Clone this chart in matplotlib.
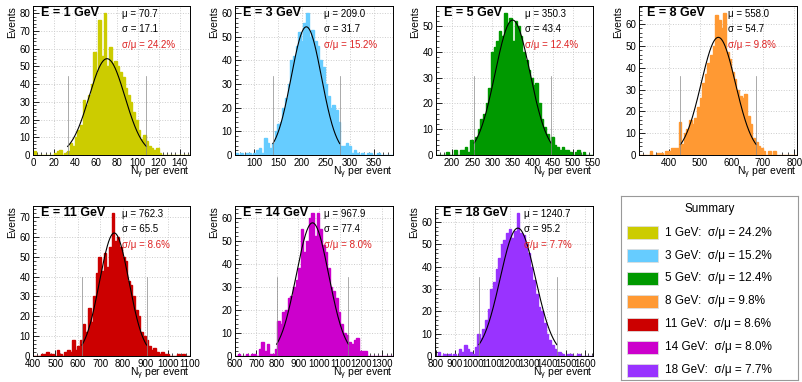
import numpy as np
import matplotlib
matplotlib.use('Agg')
import matplotlib.pyplot as plt
from matplotlib.ticker import MultipleLocator, AutoMinorLocator
from matplotlib.patches import Rectangle

plt.rcParams['font.family'] = ['Liberation Sans', 'DejaVu Sans']
plt.rcParams['mathtext.fontset'] = 'custom'
plt.rcParams['mathtext.rm'] = 'Liberation Sans'
plt.rcParams['mathtext.it'] = 'Liberation Sans:italic'

# beam energies and fit results
energies = [1, 3, 5, 8, 11, 14, 18]
mu = [70.7, 209.0, 350.3, 558.0, 762.3, 967.9, 1240.7]
sigma = [17.1, 31.7, 43.4, 54.7, 65.5, 77.4, 95.2]
fit_peak = [54.3, 54.2, 52.3, 53.9, 62.0, 57.8, 57.3]

# histogram ranges (60 bins each)
x_lo = [0, 60, 160, 306, 400, 600, 795]
x_hi = [150, 390, 550, 808, 1100, 1350, 1645]
x_major = [20, 50, 50, 100, 100, 100, 100]

counts_1gev = [2, 0, 0, 0, 0, 0, 0, 0, 1, 2, 3, 0, 1, 2, 7, 5, 10, 14, 17, 31,
               28, 34, 40, 58, 46, 76, 56, 80, 50, 61, 52, 53, 50, 47, 44, 38, 34, 30, 24, 20,
               14, 9, 11, 8, 5, 4, 3, 4, 1, 0, 0, 0, 0, 0, 0, 0, 0, 0, 0, 0]
counts_3gev = [1, 0, 1, 0, 1, 1, 0, 1, 2, 3, 1, 7, 5, 3, 5, 10, 13, 14, 20, 24,
               30, 40, 42, 46, 52, 48, 56, 60, 50, 53, 48, 46, 40, 37, 30, 25, 20, 21, 19, 14,
               4, 4, 5, 4, 1, 2, 1, 0, 1, 0, 1, 1, 0, 0, 1, 0, 0, 0, 0, 0]
counts_5gev = [0, 0, 0, 0, 1, 0, 0, 2, 0, 2, 2, 3, 1, 6, 2, 7, 10, 14, 16, 20,
               26, 40, 42, 44, 48, 46, 55, 51, 53, 44, 52, 50, 46, 40, 37, 33, 30, 27, 28, 20,
               14, 11, 8, 5, 7, 4, 3, 2, 3, 2, 2, 1, 0, 1, 2, 0, 1, 0, 0, 0]
counts_8gev = [0, 0, 0, 0, 2, 0, 0, 1, 1, 0, 2, 2, 3, 3, 3, 15, 5, 10, 12, 16,
               14, 17, 22, 26, 33, 37, 42, 46, 50, 64, 62, 58, 65, 47, 44, 38, 35, 30, 27, 26,
               28, 18, 14, 8, 6, 4, 3, 2, 0, 2, 0, 2, 0, 0, 0, 0, 0, 0, 0, 0]
counts_11gev = [0, 0, 0, 1, 1, 2, 1, 1, 0, 3, 1, 0, 2, 3, 2, 8, 3, 5, 8, 16,
                12, 24, 17, 30, 42, 50, 43, 52, 45, 55, 72, 58, 60, 55, 50, 48, 38, 36, 30, 23,
                20, 12, 10, 8, 5, 3, 4, 2, 1, 2, 1, 1, 0, 0, 0, 1, 0, 1, 0, 0]
counts_14gev = [0, 1, 0, 0, 1, 0, 1, 1, 0, 3, 6, 2, 5, 1, 1, 3, 15, 14, 19, 20,
                25, 26, 30, 33, 38, 55, 45, 50, 60, 62, 52, 62, 55, 48, 45, 38, 30, 28, 25, 19,
                14, 10, 9, 6, 5, 7, 8, 2, 2, 2, 0, 0, 0, 0, 0, 0, 0, 0, 0, 0]
counts_18gev = [0, 2, 0, 1, 0, 1, 0, 1, 0, 3, 2, 5, 3, 2, 1, 4, 10, 8, 12, 16,
                21, 30, 33, 39, 44, 50, 52, 55, 57, 53, 56, 64, 55, 54, 50, 46, 40, 34, 28, 22,
                20, 15, 10, 7, 5, 3, 2, 2, 1, 0, 1, 1, 0, 0, 1, 0, 0, 0, 0, 0]
counts = [counts_1gev, counts_3gev, counts_5gev, counts_8gev,
          counts_11gev, counts_14gev, counts_18gev]

colors = ['#cccc00', '#66ccff', '#009900', '#ff9933', '#cc0000', '#cc00cc', '#9933ff']

W, H = 802, 382
fig = plt.figure(figsize=(W / 100, H / 100), dpi=100)

# axes boxes in pixels: left, right, top, bottom, gap to x title
boxes = [(33, 190, 6, 155, 18), (235, 393, 6, 155, 18), (436, 593, 6, 155, 18),
         (639, 797, 6, 155, 18), (33, 190, 206, 356, 18), (235, 393, 206, 356, 18),
         (435, 593, 206, 356, 18)]

for i in range(7):
    l, r, t, b, gap = boxes[i]
    ax = fig.add_axes([l / W, (H - b) / H, (r - l) / W, (b - t) / H])
    edges = np.linspace(x_lo[i], x_hi[i], len(counts[i]) + 1)
    c = colors[i]
    ax.stairs(counts[i], edges, fill=True, color=c, zorder=2)
    ax.stairs(counts[i], edges, color=c, lw=1.0, zorder=2)

    # gaussian fit over the fit range
    lo, hi = mu[i] - 2.2 * sigma[i], mu[i] + 2.2 * sigma[i]
    xs = np.linspace(lo, hi, 200)
    ax.plot(xs, fit_peak[i] * np.exp(-0.5 * ((xs - mu[i]) / sigma[i]) ** 2),
            color='black', lw=0.8, zorder=3)
    for xv in (lo, hi):
        ax.axvline(xv, ymin=0, ymax=0.53, color='#888888', lw=0.5, zorder=3)

    ax.set_xlim(x_lo[i], x_hi[i])
    ax.set_ylim(0, 1.05 * max(counts[i]))
    ax.xaxis.set_major_locator(MultipleLocator(x_major[i]))
    ax.xaxis.set_minor_locator(AutoMinorLocator(5))
    ax.yaxis.set_major_locator(MultipleLocator(10))
    ax.yaxis.set_minor_locator(AutoMinorLocator(5))
    ax.tick_params(which='both', direction='in', labelsize=7, top=False, right=False, pad=2)
    ax.tick_params(which='major', length=4, width=0.6)
    ax.tick_params(which='minor', length=2, width=0.5)
    ax.grid(True, which='major', color='#cccccc', linestyle=':', lw=0.7, zorder=0)
    ax.set_axisbelow(True)
    for s in ax.spines.values():
        s.set_linewidth(0.7)

    ax.text(-0.13, 1.0, 'Events', transform=ax.transAxes, rotation=90,
            ha='center', va='top', fontsize=7.5)
    ax.text(1.0, -gap / (b - t), r'N$_\mathregular{\gamma}$ per event', transform=ax.transAxes,
            ha='right', va='center', fontsize=7.5)

    ax.text(0.05, 0.952, f'E = {energies[i]} GeV', transform=ax.transAxes,
            ha='left', va='center', fontsize=9, fontweight='bold', zorder=4)
    ax.text(0.565, 0.945, f'\u03bc = {mu[i]:.1f}', transform=ax.transAxes,
            ha='left', va='center', fontsize=7, zorder=4)
    ax.text(0.565, 0.845, f'\u03c3 = {sigma[i]:.1f}', transform=ax.transAxes,
            ha='left', va='center', fontsize=7, zorder=4)
    ax.text(0.565, 0.74, f'\u03c3/\u03bc = {100 * sigma[i] / mu[i]:.1f}%', transform=ax.transAxes,
            ha='left', va='center', fontsize=7, color='#dd2222', zorder=4)

# summary legend box
lax = fig.add_axes([621 / W, (H - 380) / H, (798 - 621) / W, (380 - 196) / H])
lax.set_xlim(621, 798)
lax.set_ylim(380, 196)
lax.set_xticks([])
lax.set_yticks([])
for s in lax.spines.values():
    s.set_color('#999999')
    s.set_linewidth(0.8)
lax.text(710, 209, 'Summary', ha='center', va='center', fontsize=8.5)
for i in range(7):
    yc = 232.7 + 22.9 * i
    lax.add_patch(Rectangle((627, yc - 6.5), 31, 13, facecolor=colors[i],
                            edgecolor='#dddddd', lw=0.6))
    lax.text(665, yc, f'{energies[i]} GeV:  \u03c3/\u03bc = {100 * sigma[i] / mu[i]:.1f}%',
             ha='left', va='center', fontsize=8.5)

fig.savefig('out.png', dpi=100)
